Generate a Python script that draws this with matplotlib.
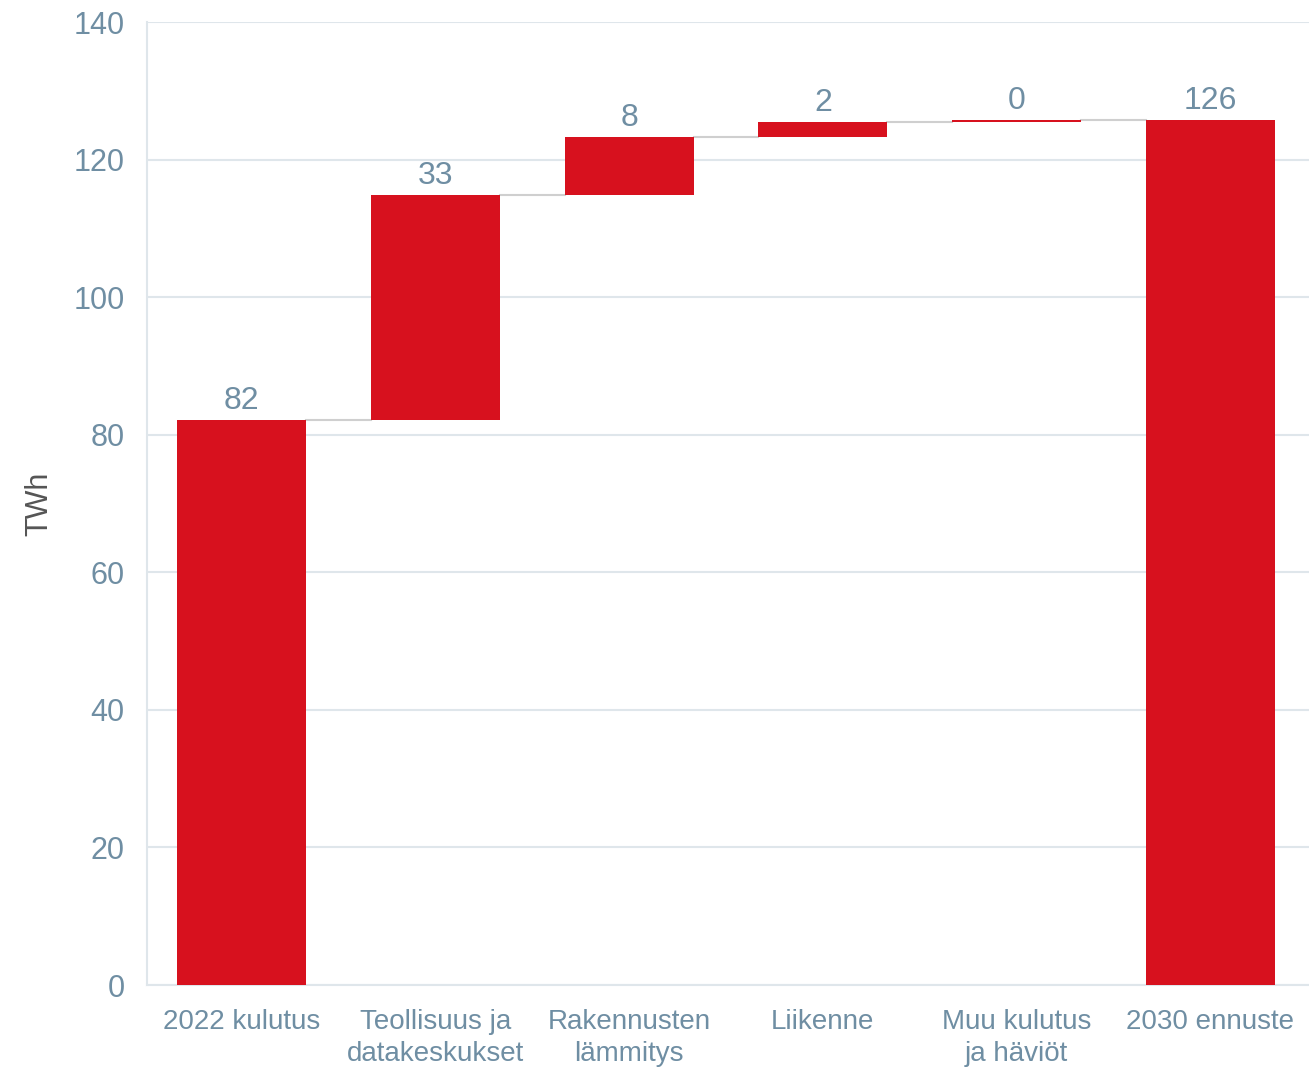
import numpy as np
import matplotlib
matplotlib.use("Agg")
from matplotlib import pyplot as plt

plt.rcParams['font.family'] = ['Liberation Sans', 'DejaVu Sans']

categories = ['2022 kulutus', 'Teollisuus ja\ndatakeskukset', 'Rakennusten\nlämmitys',
              'Liikenne', 'Muu kulutus\nja häviöt', '2030 ennuste']
start_value = 82.1
changes = [32.8, 8.4, 2.2, 0.2]
total_value = 125.7

red = '#d7111e'
tick_col = '#6f8ea3'
grid_col = '#dfe6eb'

fig = plt.figure(figsize=(13.09, 10.70), dpi=100)
ax = fig.add_axes([0.1123, 0.0794, 0.8877, 0.9])

heights = [start_value] + changes + [total_value]
bottoms = [0.0] + list(start_value + np.cumsum([0.0] + changes[:-1])) + [0.0]
x = np.arange(len(categories))
w = 0.667

ax.bar(x, heights, bottom=bottoms, width=w, color=red, zorder=3)

# connector lines
tops = [b + h for b, h in zip(bottoms, heights)]
for i in range(len(x) - 1):
    ax.plot([x[i] + w / 2, x[i + 1] - w / 2], [tops[i], tops[i]],
            color='#cfcfcf', lw=1.5, zorder=2)

for xi, h, t in zip(x, heights, tops):
    ax.text(xi, t + 0.6, f'{h:.0f}', ha='center', va='bottom',
            fontsize=23, color=tick_col)

ax.set_xlim(-0.49, 5.51)
ax.set_ylim(0, 140)
ax.set_yticks(range(0, 141, 20))
ax.set_xticks(x)
ax.set_xticklabels(categories, fontsize=20, color=tick_col, linespacing=1.3)
ax.tick_params(axis='y', labelsize=22, labelcolor=tick_col, length=0, pad=16)
ax.tick_params(axis='x', length=0, pad=17)
ax.grid(axis='y', color=grid_col, lw=1.5, zorder=0)
for s in ['top', 'right']:
    ax.spines[s].set_visible(False)
for s in ['left', 'bottom']:
    ax.spines[s].set_color(grid_col)
    ax.spines[s].set_linewidth(1.5)
ax.set_ylabel('TWh', fontsize=22, color='#555555', labelpad=14)

fig.savefig('out.png', dpi=100)
